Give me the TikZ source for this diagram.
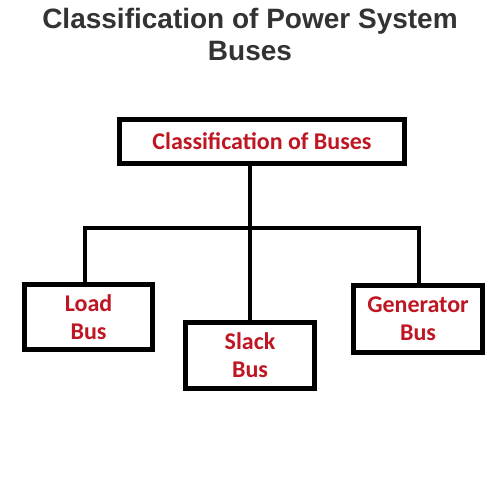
\documentclass[tikz,border=0pt]{standalone}
\usepackage{fontspec}
\setmainfont{Liberation Sans}
\newfontfamily\boxfont{Carlito}
\definecolor{titlegray}{RGB}{51,51,51}
\definecolor{busred}{RGB}{190,22,34}
\begin{document}
\begin{tikzpicture}[x=1pt,y=-1pt,
  busbox/.style={draw=black,line width=5pt,fill=white,inner sep=0pt,align=center,
    text=busred,font=\boxfont\bfseries\fontsize{24}{28}\selectfont},
  link/.style={line width=4pt,black}]
\useasboundingbox[fill=white] (0,0) rectangle (500,500);
\node[align=center,text=titlegray,font=\bfseries\fontsize{28}{32}\selectfont] (title) at (250,34)
  {Classification of Power System\\Buses};
\node[busbox,minimum width=285pt,minimum height=44pt] (top) at (262,141.5) {Classification of Buses};
\node[busbox,minimum width=128pt,minimum height=65pt] (load) at (88.5,317) {Load\\Bus};
\node[busbox,minimum width=129pt,minimum height=66pt] (slack) at (250,355.5) {Slack\\Bus};
\node[busbox,minimum width=129pt,minimum height=67pt] (gen) at (418,319) {Generator\\Bus};
\coordinate (j) at (250,228);
\coordinate (jl) at (85,228);
\coordinate (jr) at (419,228);
\draw[link] (top.south -| slack.north) -- (slack.north);
\draw[link] (load.north -| jl) |- (j) -| (gen.north -| jr);
\end{tikzpicture}
\end{document}
